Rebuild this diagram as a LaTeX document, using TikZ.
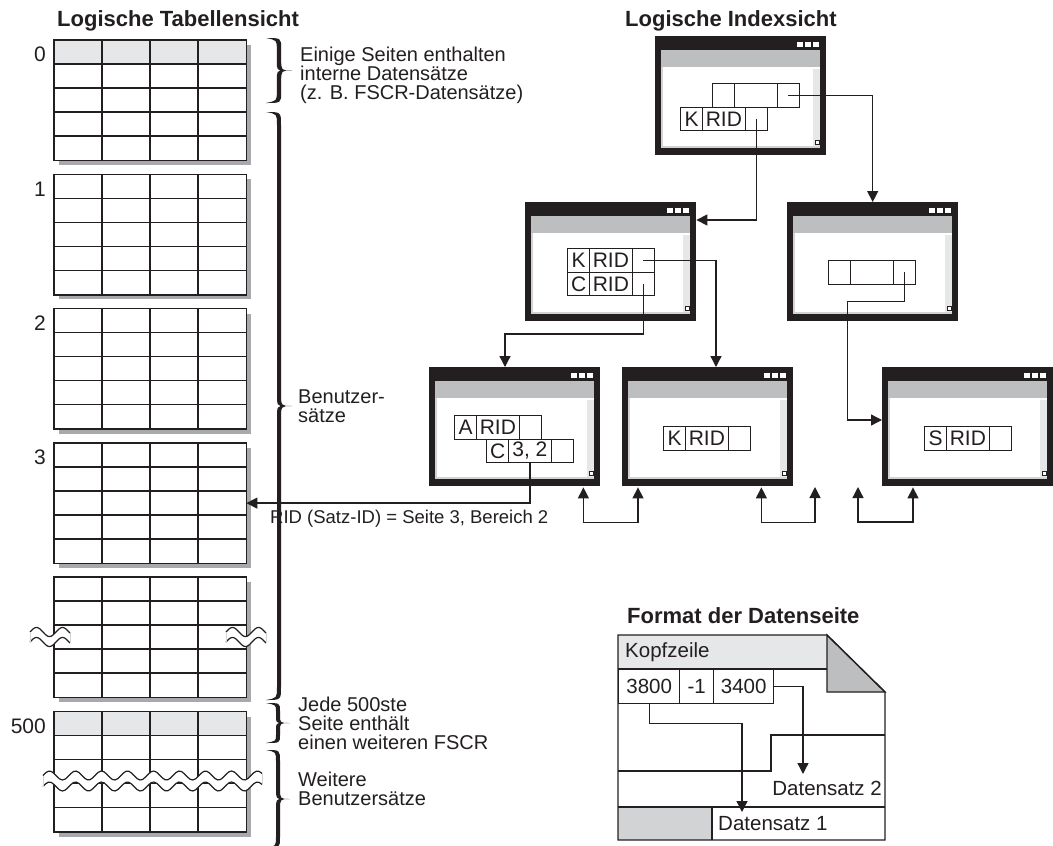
\documentclass[tikz,border=0pt]{standalone}
\usepackage{fontspec}
\setmainfont{Liberation Sans}
\usetikzlibrary{arrows.meta,calc}
\definecolor{ink}{HTML}{231F20}
\definecolor{grayband}{HTML}{BCBEC0}
\definecolor{lightg}{HTML}{E6E7E8}
\definecolor{midg}{HTML}{D1D3D4}
\definecolor{shadowg}{HTML}{A7A9AC}
\tikzset{
  tblline/.style={draw=ink, line width=1.6pt},
  tblnode/.style={rectangle, fill=white, minimum width=192pt, minimum height=120pt, inner sep=0pt, anchor=north west},
  lbl/.style={font=\fontsize{21}{21}\selectfont, inner sep=0pt, text=ink},
  txt/.style={font=\fontsize{20}{19}\selectfont, inner sep=0pt, text=ink, align=left},
  ridtxt/.style={font=\fontsize{18.5}{18.5}\selectfont, inner sep=0pt, text=ink},
  ttl/.style={font=\fontsize{22}{22}\selectfont\bfseries, inner sep=0pt, text=ink},
  winnode/.style={rectangle, fill=ink, minimum width=171pt, minimum height=119pt, inner sep=0pt, anchor=north west},
  cellbox/.style={rectangle, draw=ink, line width=1.3pt, minimum height=23.5pt, inner sep=0pt, anchor=north west, font=\fontsize{21}{21}\selectfont, text=ink},
  pcell/.style={rectangle, draw=ink, line width=1.3pt, minimum height=34pt, inner sep=0pt, anchor=north west, font=\fontsize{20.5}{20.5}\selectfont, text=ink},
  ptext/.style={font=\fontsize{20.5}{20.5}\selectfont, inner sep=0pt, text=ink},
  pageline/.style={draw=ink, line width=1.3pt},
  conn/.style={draw=ink, line width=1.3pt},
  arr/.style={-{Triangle[width=11pt,length=11pt]}},
  arrs/.style={{Triangle[width=11pt,length=11pt]}-{Triangle[width=11pt,length=11pt]}},
}
\newcommand\ltable[3]{%
  \fill[shadowg] (59,#2+5) rectangle (251,#2+125);
  \node[tblnode] (#1) at (54,#2) {};
  \ifnum#3=1 \fill[lightg] (54,#2) rectangle (246,#2+24);\fi
  \draw[tblline] (102,#2) -- (102,#2+120) (150,#2) -- (150,#2+120) (198,#2) -- (198,#2+120);
  \foreach \rr in {24,48,72,96} {\draw[tblline] (54,#2+\rr) -- (246,#2+\rr);}
  \draw[tblline] (#1.north west) rectangle (#1.south east);
}
\newcommand\wavebreak[4]{%
  \fill[white] plot[domain=#1:#2,samples=80] (\x,{#3-#4-4.5*sin((\x-#1)/26*360)}) -- plot[domain=#2:#1,samples=80] (\x,{#3+#4-4.5*sin((\x-#1)/26*360)}) -- cycle;
  \draw[ink, line width=1.2pt] plot[domain=#1:#2,samples=80] (\x,{#3-#4-4.5*sin((\x-#1)/26*360)});
  \draw[ink, line width=1.2pt] plot[domain=#1:#2,samples=80] (\x,{#3+#4-4.5*sin((\x-#1)/26*360)});
  \draw[midg, line width=0.8pt] (#1,#3-#4) -- (#1,#3+#4) (#2,{#3-#4-4.5*sin((#2-#1)/26*360)}) -- (#2,{#3+#4-4.5*sin((#2-#1)/26*360)});
}
\newcommand\bracefill[6]{%
  \pgfmathsetmacro\bxa{#1}\pgfmathsetmacro\bxo{#1+#4/2+#5}\pgfmathsetmacro\bxi{#1+#4/2-#5}%
  \pgfmathsetmacro\bxt{#1+#4}\pgfmathsetmacro\bxc{#1+#4*0.72}%
  \pgfmathsetmacro\bym{(#2+#3)/2}%
  \pgfmathsetmacro\byu{\bym-#6}\pgfmathsetmacro\byd{\bym+#6}%
  \pgfmathsetmacro\bya{#2+#6}\pgfmathsetmacro\byb{#3-#6}%
  \pgfmathsetmacro\byat{#2+#5}\pgfmathsetmacro\bybt{#3-#5}%
  \fill[ink] (\bxa,#2) .. controls (\bxo,#2) .. (\bxo,\bya) -- (\bxo,\byu) .. controls (\bxo,\bym) .. (\bxt,\bym) .. controls (\bxo,\bym) .. (\bxo,\byd) -- (\bxo,\byb) .. controls (\bxo,#3) .. (\bxa,#3) .. controls (\bxi,\bybt) .. (\bxi,\byb) -- (\bxi,\byd) .. controls (\bxi,\bym) .. (\bxc,\bym) .. controls (\bxi,\bym) .. (\bxi,\byu) -- (\bxi,\bya) .. controls (\bxi,\byat) .. (\bxa,#2) -- cycle;
}
\newcommand\win[3]{%
  \node[winnode] (#1) at (#2,#3) {};
  \fill[grayband] (#2+6,#3+14) rectangle (#2+165,#3+31);
  \fill[white] (#2+6,#3+31) rectangle (#2+165,#3+112);
  \fill[midg] (#2+6,#3+31) rectangle (#2+8,#3+112);
  \fill[midg] (#2+6,#3+110) rectangle (#2+165,#3+112);
  \fill[lightg] (#2+158,#3+33) rectangle (#2+165,#3+110);
  \draw[ink, line width=0.8pt, fill=white] (#2+160.5,#3+104.5) rectangle (#2+164,#3+108);
  \foreach \q in {142,150,158} {\fill[white] (#2+\q,#3+6) rectangle (#2+\q+6,#3+11);}
}
\newcommand\cellrow[6]{%
  \node[cellbox, minimum width=22pt] (#1a) at (#2,#3) {#4};
  \node[cellbox, minimum width=42.5pt] (#1b) at (#2+22,#3) {#5};
  \node[cellbox, minimum width=22pt] (#1c) at (#2+64.5,#3) {#6};
}
\begin{document}
\begin{tikzpicture}[x=1pt,y=-1pt]
\useasboundingbox (0,0) rectangle (1053,846);
\fill[white] (0,0) rectangle (1053,846);

% titles
\node[ttl, anchor=base west] (tt1) at (57,26) {Logische Tabellensicht};
\node[ttl, anchor=base west] (tt2) at (625,26) {Logische Indexsicht};
\node[ttl, anchor=base west] (tt3) at (627,623) {Format der Datenseite};

% tables
\ltable{t0}{40}{1}
\ltable{t1}{174.3}{0}
\ltable{t2}{308.6}{0}
\ltable{t3}{442.9}{0}
\ltable{t4}{577.2}{0}
\ltable{t5}{711.5}{1}
\wavebreak{30}{70}{637}{5}
\wavebreak{226}{266}{637}{5}
\wavebreak{43}{262}{781}{5.5}

\node[lbl, anchor=east] (l0) at (46,54.5) {0};
\node[lbl, anchor=east] (l1) at (46,188.8) {1};
\node[lbl, anchor=east] (l2) at (46,323.1) {2};
\node[lbl, anchor=east] (l3) at (46,457.4) {3};
\node[lbl, anchor=east] (l5) at (46,726) {500};

% braces
\bracefill{266}{38}{103}{26}{2.2}{11}
\bracefill{266}{112}{700}{26}{2.0}{13}
\bracefill{266}{703}{743}{24}{2.0}{8}
\bracefill{266}{750}{848}{24}{2.0}{11}

\node[txt, anchor=north west] (n1) at (300,46.7) {Einige Seiten enthalten\\interne Datensätze\\(z. B. FSCR-Datensätze)};
\node[txt, anchor=north west] (n2) at (298,389.7) {Benutzer-\\sätze};
\node[txt, anchor=north west] (n3) at (298,696.7) {Jede 500ste\\Seite enthält\\einen weiteren FSCR};
\node[txt, anchor=north west] (n4) at (298,771.7) {Weitere\\Benutzersätze};

% index windows
\win{w1}{655}{36}
\win{w2}{525}{202}
\win{w3}{787}{202}
\win{w4}{429}{367}
\win{w5}{622}{367}
\win{w6}{882}{367}

\cellrow{w1r1}{712}{83}{}{}{}
\cellrow{w1r2}{680}{106.5}{K}{RID}{}
\cellrow{w2r1}{567}{248}{K}{RID}{}
\cellrow{w2r2}{567}{271.5}{C}{RID}{}
\cellrow{w3r1}{828}{260}{}{}{}
\cellrow{w4r1}{454}{415}{A}{RID}{}
\cellrow{w4r2}{486}{438.5}{C}{3, 2}{}
\cellrow{w5r1}{663}{426}{K}{RID}{}
\cellrow{w6r1}{924}{426}{S}{RID}{}

\draw[conn, arr] (w1r1c.center) -| (w3.north);
\draw[conn, arr] (w1r2c.center) |- ($(w2.north east)+(0,18)$);
\draw[conn, arr] (w2r1c.center) -| ($(w5.north west)+(94,0)$);
\draw[conn, arr] (w2r2c.center) -- ++(0,50) -| ($(w4.north west)+(76,0)$);
\draw[conn, arr] (w3r1c.center) -- ++(0,29) -- ++(-57,0) |- ($(w6.north west)+(0,53)$);
\draw[conn, arr] (w4r2b.south) |- (t3.east);
\node[ridtxt, anchor=base west] (ridl) at (270,523) {RID (Satz-ID) = Seite 3, Bereich 2};

\coordinate (f1) at (815,487);
\coordinate (f2) at (858,487);
\draw[conn, arrs] ($(w4.south east)+(-17,1)$) -- ++(0,35) -| ($(w5.south west)+(16,1)$);
\draw[conn, arrs] ($(w5.south east)+(-32,1)$) -- ++(0,35) -| (f1);
\draw[conn, arrs] (f2) -- ++(0,35) -| ($(w6.south west)+(31,1)$);

% data page format
\fill[white] (618,635) -- (827,635) -- (885,692) -- (885,840) -- (618,840) -- cycle;
\fill[lightg] (618,635) rectangle (827,669);
\fill[midg] (618,807) rectangle (712,840);
\draw[pageline, fill=grayband] (827,635) -- (827,692) -- (885,692) -- cycle;
\draw[pageline] (618,669) -- (827,669);
\draw[pageline] (618,771) -- (771,771) -- (771,735) -- (885,735);
\draw[pageline] (618,807) -- (885,807);
\draw[pageline] (712,807) -- (712,840);
\draw[pageline] (618,635) -- (827,635) -- (885,692) -- (885,840) -- (618,840) -- cycle;
\node[ptext, anchor=base west] (kopf) at (625,657) {Kopfzeile};
\node[pcell, minimum width=61pt] (p3800) at (618,669) {3800};
\node[pcell, minimum width=34pt] (pm1) at (679,669) {-1};
\node[pcell, minimum width=60pt] (p3400) at (713,669) {3400};
\node[ptext, anchor=base east] (ds2) at (882,795) {Datensatz 2};
\node[ptext, anchor=base west] (ds1) at (718,830) {Datensatz 1};
\coordinate (ds2in) at (803,774);
\coordinate (ds1in) at (742,812);
\draw[conn, arr] (p3400.east) -| (ds2in);
\draw[conn, arr] (p3800.south) -- ++(0,19) -| (ds1in);
\end{tikzpicture}
\end{document}
